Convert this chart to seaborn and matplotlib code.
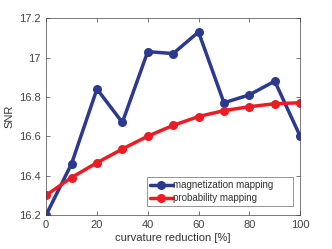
import matplotlib
matplotlib.use('Agg')
import matplotlib.pyplot as plt
import seaborn as sns
import pandas as pd

# curvature reduction [%] and SNR per mapping method
reduction = [0, 10, 20, 30, 40, 50, 60, 70, 80, 90, 100]
snr_magnetization = [16.20, 16.46, 16.84, 16.67, 17.03, 17.02, 17.13, 16.77, 16.81, 16.88, 16.60]
snr_probability = [16.30, 16.39, 16.465, 16.535, 16.60, 16.655, 16.70, 16.73, 16.75, 16.765, 16.77]

df = pd.DataFrame({
    'reduction': reduction * 2,
    'SNR': snr_magnetization + snr_probability,
    'method': ['magnetization mapping'] * len(reduction) + ['probability mapping'] * len(reduction),
})

sns.set_style('ticks')
plt.rcParams['font.family'] = ['Liberation Sans', 'DejaVu Sans']
plt.rcParams['text.color'] = '#333333'

fig = plt.figure(figsize=(3.32, 2.49), dpi=100)
ax = fig.add_axes([0.139, 0.137, 0.765, 0.79])
sns.lineplot(data=df, x='reduction', y='SNR', hue='method',
             palette=['#2B3990', '#ED1C24'], marker='o', markersize=6.5,
             markeredgewidth=0, linewidth=2.5, ax=ax)

ax.set_xlim(0, 100)
ax.set_ylim(16.2, 17.2)
ax.set_xticks([0, 20, 40, 60, 80, 100])
ax.set_yticks([16.2, 16.4, 16.6, 16.8, 17.0, 17.2])
ax.set_yticklabels(['16.2', '16.4', '16.6', '16.8', '17', '17.2'])
ax.tick_params(direction='in', labelsize=8, length=3, width=0.5, top=True, right=True,
               colors='#444444', pad=4)
for s in ax.spines.values():
    s.set_linewidth(0.5)
    s.set_color('#444444')
ax.set_xlabel('curvature reduction [%]', fontsize=8, labelpad=2, color='#333333')
ax.set_ylabel('SNR', fontsize=8, labelpad=3, color='#333333')

leg = ax.legend(loc='lower left', bbox_to_anchor=(0.398, 0.046, 0.574, 0.137),
                mode='expand', fontsize=7, frameon=True, fancybox=False,
                handlelength=2.3, handletextpad=0.1, borderpad=0.3,
                labelspacing=0.3, borderaxespad=0)
leg.get_frame().set_edgecolor('#444444')
leg.get_frame().set_linewidth(0.5)

fig.savefig('out.png', dpi=100)
